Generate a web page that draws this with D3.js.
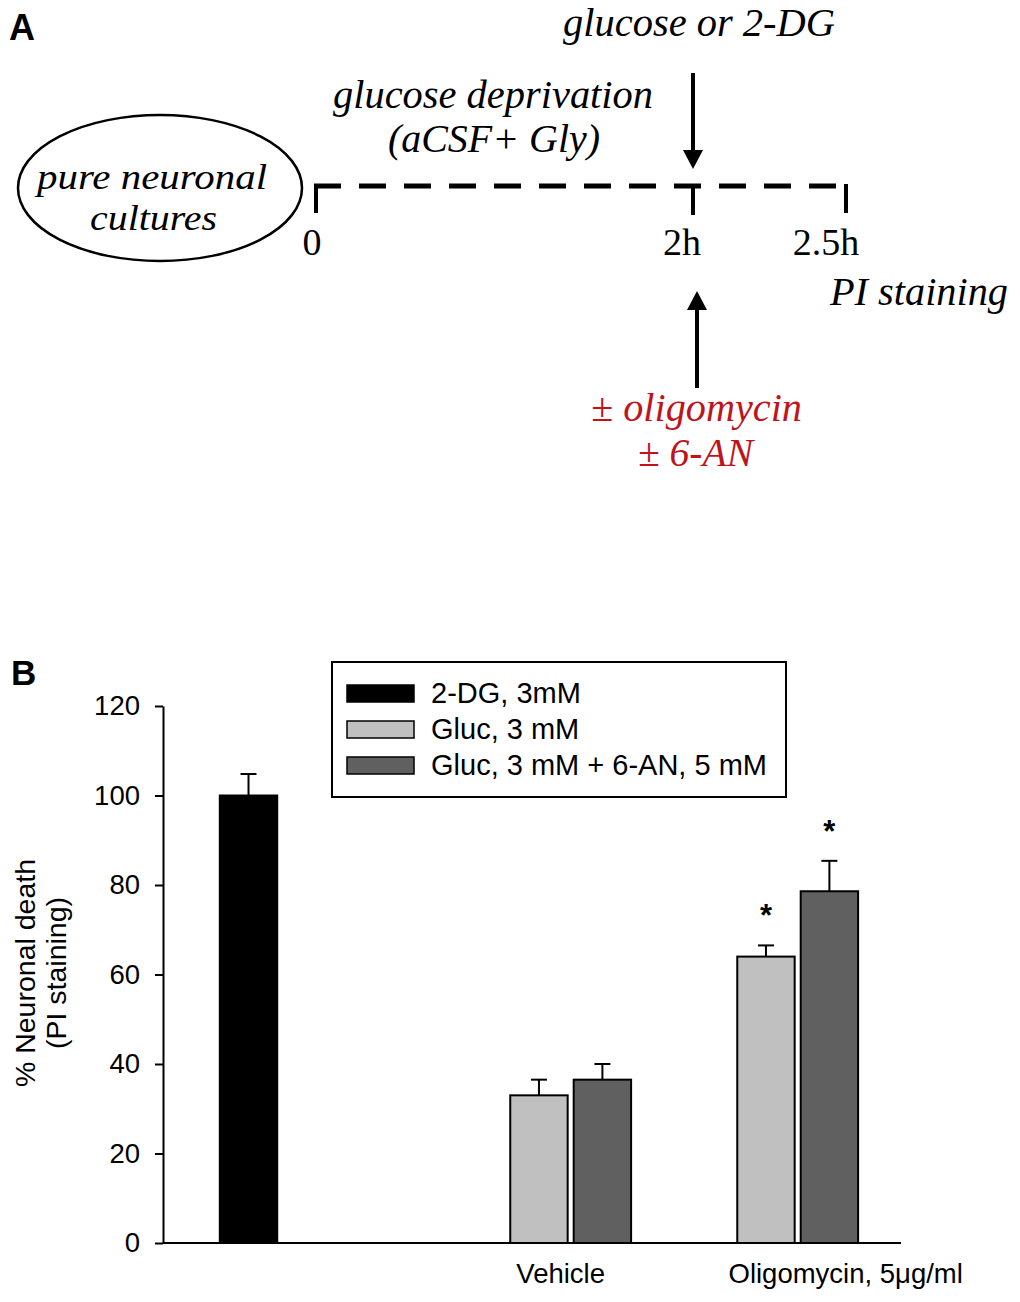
<!DOCTYPE html>
<html>
<head>
<meta charset="utf-8">
<script src="https://cdn.jsdelivr.net/npm/d3@7"></script>
<style>
  body { margin: 0; background: #fff; }
  text { fill: #000; }
</style>
</head>
<body>
<script>
// ---- panel B data ----
const groups = ["2-DG", "Vehicle", "Oligomycin"];
const groupLabels = ["", "Vehicle", "Oligomycin, 5\u03bcg/ml"];
const series = ["2-DG, 3mM", "Gluc, 3 mM", "Gluc, 3 mM + 6-AN, 5 mM"];
const seriesColors = ["#000000", "#c0c0c0", "#606060"];
const meanDG = [100, null, null];
const meanGluc = [null, 33.0, 64.0];
const meanGlucAN = [null, 36.5, 78.6];
const semDG = [4.8, null, null];
const semGluc = [null, 3.5, 2.5];
const semGlucAN = [null, 3.5, 6.8];
const starGluc = [false, false, true];
const starGlucAN = [false, false, true];
const yTicks = [0, 20, 40, 60, 80, 100, 120];

// ---- panel A labels ----
const timeLabels = ["0", "2h", "2.5h"];

const width = 1020, height = 1302;
const svg = d3.select("body").append("svg")
    .attr("width", width)
    .attr("height", height);

const sans = "Arial, 'Liberation Sans', Helvetica, sans-serif";
const serif = "'Times New Roman', 'Liberation Serif', serif";
const red = "#c0141c";

// ================= Panel A : protocol diagram =================
const A = svg.append("g");

A.append("text").attr("x", 9).attr("y", 40)
    .attr("font-family", sans).attr("font-weight", "bold").attr("font-size", 36)
    .text("A");

// italic serif captions
function caption(x, y, len, str, color, size) {
    A.append("text")
        .attr("x", x).attr("y", y)
        .attr("font-family", serif).attr("font-style", "italic").attr("font-size", size || 40)
        .attr("textLength", len).attr("lengthAdjust", "spacingAndGlyphs")
        .style("fill", color || "#000")
        .text(str);
}

caption(563, 36, 272, "glucose or 2-DG");
caption(333, 108, 320, "glucose deprivation");
caption(388, 152, 212, "(aCSF+ Gly)");
caption(37, 189, 230, "pure neuronal", null, 35);
caption(90, 230, 127, "cultures", null, 35);
caption(830, 305, 178, "PI staining");
caption(591, 421, 211, "\u00b1 oligomycin", red);
caption(638, 466, 115, "\u00b1 6-AN", red);

A.append("ellipse")
    .attr("cx", 160).attr("cy", 188).attr("rx", 142).attr("ry", 73)
    .attr("fill", "none").attr("stroke", "#000").attr("stroke-width", 2.5);

// timeline
const tlY = 186;
const tickX = [316, 693, 846];
A.append("line")
    .attr("x1", 314).attr("x2", 840).attr("y1", tlY).attr("y2", tlY)
    .attr("stroke", "#000").attr("stroke-width", 5)
    .attr("stroke-dasharray", "27 18");
A.selectAll(".tl-tick").data(tickX).enter().append("line")
    .attr("x1", d => d).attr("x2", d => d)
    .attr("y1", tlY - 2).attr("y2", (d, i) => i === 1 ? 215 : 213)
    .attr("stroke", "#000").attr("stroke-width", 4);

const labelX = [312, 682, 826];
A.selectAll(".tl-label").data(timeLabels).enter().append("text")
    .attr("x", (d, i) => labelX[i]).attr("y", 255)
    .attr("text-anchor", "middle")
    .attr("font-family", serif).attr("font-size", 38)
    .text(d => d);

// arrows
function arrow(x, yTail, yHead) {
    const dir = yHead > yTail ? 1 : -1;
    const headLen = 19, headW = 10;
    A.append("line")
        .attr("x1", x).attr("x2", x)
        .attr("y1", yTail).attr("y2", yHead - dir * headLen)
        .attr("stroke", "#000").attr("stroke-width", 4);
    A.append("path")
        .attr("d", `M${x - headW},${yHead - dir * headLen} L${x + headW},${yHead - dir * headLen} L${x},${yHead} Z`)
        .attr("fill", "#000");
}
arrow(693, 73, 169);
arrow(697, 388, 291);

// ================= Panel B : bar chart =================
const B = svg.append("g");

B.append("text").attr("x", 11).attr("y", 685)
    .attr("font-family", sans).attr("font-weight", "bold").attr("font-size", 35)
    .text("B");

const y = d3.scaleLinear().domain([0, 120]).range([1243, 706]);

const xGroup = d3.scaleBand()
    .domain(groups)
    .range([163, 901])
    .paddingInner(0.163)
    .paddingOuter(0.207)
    .align(0.574);

const xSeries = d3.scaleBand()
    .domain(d3.range(series.length))
    .range([0, xGroup.bandwidth()])
    .paddingInner(0.095)
    .paddingOuter(0.045);

const means = [meanDG, meanGluc, meanGlucAN];
const sems = [semDG, semGluc, semGlucAN];
const stars = [null, starGluc, starGlucAN];

const bars = [];
groups.forEach((g, gi) => {
    series.forEach((s, si) => {
        const v = means[si][gi];
        if (v == null) return;
        bars.push({ g, si, v, e: sems[si][gi], star: stars[si] ? stars[si][gi] : false });
    });
});

const barX = d => xGroup(d.g) + xSeries(d.si);
const barMid = d => barX(d) + xSeries.bandwidth() / 2;

// error bars (drawn first so bar outline sits on top)
const err = B.append("g").attr("stroke", "#000").attr("stroke-width", 2);
err.selectAll(".stem").data(bars).enter().append("line")
    .attr("x1", barMid).attr("x2", barMid)
    .attr("y1", d => y(d.v)).attr("y2", d => y(d.v + d.e));
err.selectAll(".cap").data(bars).enter().append("line")
    .attr("x1", d => barMid(d) - 8).attr("x2", d => barMid(d) + 8)
    .attr("y1", d => y(d.v + d.e)).attr("y2", d => y(d.v + d.e));

B.selectAll(".bar").data(bars).enter().append("rect")
    .attr("x", barX)
    .attr("y", d => y(d.v))
    .attr("width", xSeries.bandwidth())
    .attr("height", d => y(0) - y(d.v))
    .attr("fill", d => seriesColors[d.si])
    .attr("stroke", "#000")
    .attr("stroke-width", 2);

B.selectAll(".star").data(bars.filter(d => d.star)).enter().append("text")
    .attr("x", barMid)
    .attr("y", d => y(d.v + d.e) - 19)
    .attr("text-anchor", "middle")
    .attr("font-family", sans).attr("font-size", 31).attr("font-weight", "bold")
    .text("*");

// y axis
const yAxis = B.append("g")
    .attr("transform", `translate(${xGroup.range()[0]},0)`)
    .call(d3.axisLeft(y).tickValues(yTicks).tickSize(8).tickSizeOuter(0).tickPadding(15));
yAxis.select(".domain").attr("stroke-width", 2);
yAxis.selectAll(".tick line").attr("stroke-width", 2);
yAxis.selectAll(".tick text")
    .attr("font-family", sans).attr("font-size", 27.5).attr("fill", "#000");

// x baseline
B.append("line")
    .attr("x1", xGroup.range()[0]).attr("x2", xGroup.range()[1])
    .attr("y1", y(0)).attr("y2", y(0))
    .attr("stroke", "#000").attr("stroke-width", 2);

// category labels, centred under the pair of bars with a small nudge as in the original
const nudge = { "Vehicle": -13, "Oligomycin": 45 };
B.selectAll(".xlab").data(groups.filter((g, i) => groupLabels[i])).enter().append("text")
    .attr("x", g => xGroup(g) + xSeries(1) + xSeries.step() + (nudge[g] || 0))
    .attr("y", 1283)
    .attr("text-anchor", "middle")
    .attr("font-family", sans).attr("font-size", 27.5)
    .text(g => groupLabels[groups.indexOf(g)]);

// y title
const yTitle = ["% Neuronal death", "(PI staining)"];
B.selectAll(".ytitle").data(yTitle).enter().append("text")
    .attr("transform", (d, i) => `translate(${i === 0 ? 35 : 66},973) rotate(-90)`)
    .attr("text-anchor", "middle")
    .attr("font-family", sans).attr("font-size", 28.5)
    .text(d => d);

// legend
const legend = B.append("g").attr("transform", "translate(332,662)");
legend.append("rect")
    .attr("width", 454).attr("height", 135)
    .attr("fill", "#fff").attr("stroke", "#000").attr("stroke-width", 2);
const rows = legend.selectAll(".row").data(series).enter().append("g")
    .attr("transform", (d, i) => `translate(15,${31 + i * 36})`);
rows.append("rect")
    .attr("y", -8).attr("width", 67).attr("height", 17)
    .attr("fill", (d, i) => seriesColors[i])
    .attr("stroke", "#000").attr("stroke-width", 1.5);
rows.append("text")
    .attr("x", 84).attr("y", 10)
    .attr("font-family", sans).attr("font-size", 29)
    .text(d => d);
</script>
</body>
</html>
